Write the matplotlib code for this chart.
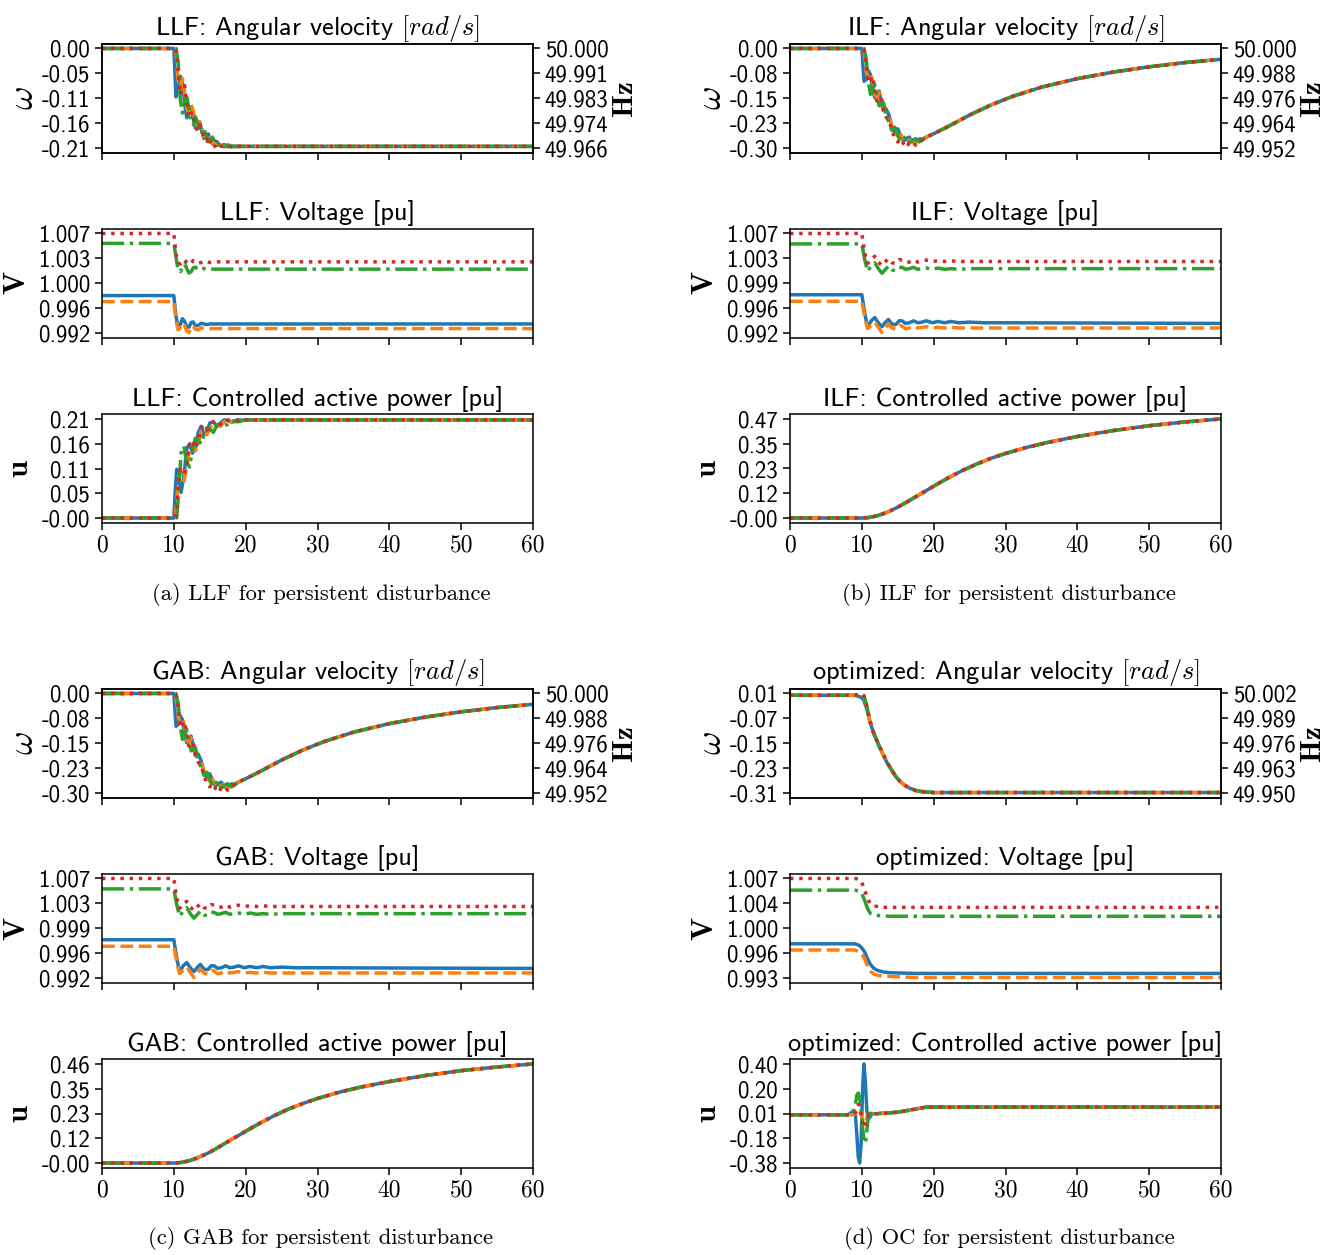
import matplotlib
matplotlib.use("Agg")
from matplotlib import pyplot as plt
import numpy as np

plt.rcParams['mathtext.fontset'] = 'cm'
plt.rcParams['axes.linewidth'] = 1.1

# Nominal grid frequency, used for the Hz scale on the right
F0 = 50.0

# ---- LLF ----
t_llf_w = [0, 10.0, 10.3, 10.6, 10.9, 11.2, 11.5, 11.8, 12.1, 12.4, 12.7, 13.0, 13.3, 13.6,
           13.9, 14.2, 14.5, 14.8, 15.1, 15.4, 15.7, 16.0, 16.5, 17.0, 17.5, 18.0, 19.0, 20.0, 60.0]
llf_w1 = [0, 0, -0.105, -0.090, -0.060, -0.075, -0.120, -0.150, -0.138, -0.128, -0.150, -0.172, -0.168, -0.160,
          -0.180, -0.195, -0.190, -0.185, -0.200, -0.207, -0.200, -0.202, -0.211, -0.208, -0.213, -0.211, -0.212, -0.212, -0.212]
llf_w2 = [0, 0, -0.010, -0.070, -0.085, -0.065, -0.095, -0.130, -0.140, -0.122, -0.135, -0.160, -0.170, -0.158,
          -0.170, -0.190, -0.195, -0.185, -0.195, -0.205, -0.208, -0.200, -0.210, -0.213, -0.208, -0.212, -0.212, -0.212, -0.212]
llf_w3 = [0, 0, 0.0, -0.030, -0.110, -0.140, -0.118, -0.105, -0.130, -0.160, -0.165, -0.148, -0.160, -0.185,
          -0.182, -0.172, -0.190, -0.202, -0.196, -0.192, -0.205, -0.210, -0.205, -0.212, -0.210, -0.213, -0.212, -0.212, -0.212]
llf_w4 = [0, 0, -0.005, -0.050, -0.100, -0.085, -0.080, -0.120, -0.150, -0.140, -0.140, -0.168, -0.178, -0.165,
          -0.175, -0.196, -0.200, -0.190, -0.203, -0.2145, -0.212, -0.205, -0.211, -0.213, -0.210, -0.213, -0.212, -0.212, -0.212]

t_llf_v = [0, 10.0, 10.3, 10.6, 10.9, 11.2, 11.5, 11.8, 12.1, 12.4, 12.7, 13.0, 13.4, 13.8, 14.2, 14.6, 15.0, 16.0, 17.0, 60.0]
llf_v1 = [0.9977, 0.9977, 0.9945, 0.9930, 0.9933, 0.9942, 0.9938, 0.9930, 0.9929, 0.9936,
          0.9937, 0.9931, 0.9932, 0.9935, 0.9934, 0.9933, 0.9934, 0.9934, 0.9934, 0.9934]
llf_v2 = [0.9968, 0.9968, 0.9940, 0.9925, 0.9928, 0.9935, 0.9932, 0.9923, 0.9921, 0.9928,
          0.9931, 0.9926, 0.9925, 0.9928, 0.9927, 0.9927, 0.9927, 0.9927, 0.9927, 0.9927]
llf_v3 = [1.0056, 1.0056, 1.0035, 1.0016, 1.0013, 1.0020, 1.0025, 1.0018, 1.0011, 1.0013,
          1.0019, 1.0020, 1.0016, 1.0016, 1.0018, 1.0017, 1.0017, 1.0017, 1.0017, 1.0017]
llf_v4 = [1.0071, 1.0071, 1.0040, 1.0027, 1.0025, 1.0030, 1.0031, 1.0027, 1.0024, 1.0026,
          1.0030, 1.0029, 1.0026, 1.0027, 1.0029, 1.0028, 1.0027, 1.0028, 1.0028, 1.0028]

t_llf_u = [0, 10.0, 10.2, 10.4, 10.7, 11.0, 11.4, 11.8, 12.2, 12.6, 13.0, 13.4, 13.8, 14.2, 14.6, 15.0,
           15.5, 16.0, 16.5, 17.0, 17.5, 18.0, 19.0, 20.0, 21.0, 60.0]
llf_u1 = [-0.0005, -0.0005, 0.060, 0.105, 0.080, 0.055, 0.090, 0.150, 0.160, 0.140, 0.150, 0.185, 0.198,
          0.180, 0.185, 0.205, 0.208, 0.198, 0.205, 0.212, 0.210, 0.208, 0.212, 0.211, 0.212, 0.212]
llf_u2 = [-0.0005, -0.0005, 0.000, 0.040, 0.090, 0.100, 0.080, 0.110, 0.150, 0.160, 0.145, 0.160, 0.188,
          0.190, 0.180, 0.192, 0.205, 0.200, 0.198, 0.208, 0.214, 0.206, 0.210, 0.212, 0.211, 0.212]
llf_u3 = [-0.0005, -0.0005, 0.000, 0.000, 0.060, 0.140, 0.155, 0.120, 0.110, 0.150, 0.172, 0.168, 0.160,
          0.180, 0.195, 0.192, 0.185, 0.200, 0.205, 0.200, 0.202, 0.210, 0.208, 0.212, 0.212, 0.212]
llf_u4 = [-0.0005, -0.0005, 0.000, 0.020, 0.100, 0.105, 0.095, 0.120, 0.160, 0.168, 0.150, 0.165, 0.195,
          0.200, 0.190, 0.195, 0.208, 0.210, 0.202, 0.206, 0.212, 0.210, 0.211, 0.212, 0.212, 0.212]

# ---- ILF (GAB behaves the same for frequency and voltage) ----
t_ilf_w = [0, 10.0, 10.3, 10.6, 10.9, 11.2, 11.5, 11.8, 12.1, 12.4, 12.7, 13.0, 13.4, 13.8, 14.2, 14.6,
           15.0, 15.4, 15.8, 16.2, 16.6, 17.0, 17.5, 18.0, 18.5, 19.0,
           20, 22, 25, 28, 31, 35, 40, 45, 50, 55, 60]
ilf_w_tail = [-0.260, -0.238, -0.203, -0.172, -0.146, -0.118, -0.092, -0.072, -0.056, -0.043, -0.033]
ilf_w1 = [0, 0, -0.100, -0.095, -0.068, -0.080, -0.125, -0.150, -0.140, -0.130, -0.160, -0.190, -0.185,
          -0.205, -0.240, -0.255, -0.245, -0.265, -0.282, -0.275, -0.270, -0.285, -0.282, -0.276, -0.276, -0.270] + ilf_w_tail
ilf_w2 = [0, 0, -0.010, -0.070, -0.090, -0.075, -0.100, -0.140, -0.150, -0.135, -0.150, -0.180, -0.200,
          -0.215, -0.235, -0.255, -0.268, -0.262, -0.275, -0.290, -0.280, -0.278, -0.290, -0.284, -0.276, -0.270] + ilf_w_tail
ilf_w3 = [0, 0, 0.0, -0.030, -0.100, -0.140, -0.125, -0.110, -0.140, -0.175, -0.170, -0.165, -0.200,
          -0.230, -0.250, -0.240, -0.262, -0.285, -0.275, -0.268, -0.288, -0.280, -0.275, -0.285, -0.277, -0.270] + ilf_w_tail
ilf_w4 = [0, 0, -0.005, -0.050, -0.105, -0.095, -0.085, -0.125, -0.160, -0.150, -0.150, -0.185, -0.210,
          -0.220, -0.250, -0.275, -0.285, -0.275, -0.290, -0.302, -0.288, -0.283, -0.295, -0.286, -0.278, -0.270] + ilf_w_tail

t_ilf_v = [0, 10.0, 10.4, 10.8, 11.3, 11.8, 12.3, 12.8, 13.3, 13.7, 14.2, 14.7, 15.2, 15.6, 16.1, 16.6,
           17.2, 17.8, 18.4, 19.0, 19.8, 20.6, 21.5, 22.4, 23.5, 25.0, 27.0, 30.0, 60.0]
ilf_v1 = [0.9976, 0.9976, 0.9948, 0.9926, 0.9936, 0.9941, 0.9933, 0.9927, 0.9934, 0.9938, 0.9931, 0.9930,
          0.9936, 0.9936, 0.9932, 0.9933, 0.9936, 0.9933, 0.9934, 0.9936, 0.9933, 0.9935, 0.9933, 0.9935,
          0.9933, 0.9934, 0.9933, 0.9933, 0.9932]
ilf_v2 = [0.9966, 0.9966, 0.9942, 0.9924, 0.9929, 0.9934, 0.9926, 0.9918, 0.9925, 0.9931, 0.9925, 0.9923,
          0.9929, 0.9928, 0.9924, 0.9925, 0.9928, 0.9925, 0.9926, 0.9927, 0.9925, 0.9926, 0.9925, 0.9926,
          0.9925, 0.9925, 0.9925, 0.9925, 0.9925]
ilf_v3 = [1.0054, 1.0054, 1.0030, 1.0012, 1.0020, 1.0025, 1.0016, 1.0009, 1.0015, 1.0020, 1.0014, 1.0013,
          1.0018, 1.0018, 1.0015, 1.0016, 1.0018, 1.0015, 1.0016, 1.0017, 1.0015, 1.0017, 1.0015, 1.0016,
          1.0015, 1.0016, 1.0016, 1.0016, 1.0016]
ilf_v4 = [1.0070, 1.0070, 1.0040, 1.0024, 1.0030, 1.0035, 1.0026, 1.0021, 1.0027, 1.0031, 1.0025, 1.0024,
          1.0030, 1.0029, 1.0026, 1.0026, 1.0029, 1.0026, 1.0028, 1.0029, 1.0027, 1.0028, 1.0027, 1.0028,
          1.0027, 1.0027, 1.0027, 1.0027, 1.0027]

# all four units share the same controlled power under ILF / GAB
t_slow_u = [0, 10, 11, 12, 13, 14, 15, 16, 17, 18, 19, 20, 22, 24, 26, 28, 30, 33, 36, 40, 45, 50, 55, 60]
ilf_u = [-0.0005, -0.0005, 0.002, 0.009, 0.020, 0.034, 0.051, 0.070, 0.090, 0.110, 0.130, 0.150,
         0.189, 0.224, 0.255, 0.282, 0.305, 0.334, 0.358, 0.385, 0.413, 0.436, 0.454, 0.468]
gab_u = [-0.0005, -0.0005, 0.002, 0.009, 0.020, 0.034, 0.050, 0.069, 0.089, 0.109, 0.128, 0.148,
         0.186, 0.221, 0.252, 0.278, 0.301, 0.330, 0.354, 0.380, 0.408, 0.431, 0.448, 0.4622]

# ---- optimized control ----
t_oc_w = [0, 8.5, 9.2, 9.6, 10.0, 10.3, 10.7, 11.1, 11.6, 12.3, 13.0, 13.5, 14.0, 14.7, 15.3, 15.9,
          16.7, 17.6, 18.7, 20.0, 60.0]
oc_w1 = [0.006, 0.006, 0.005, 0.002, -0.002, -0.012, -0.040, -0.078, -0.117, -0.156, -0.191, -0.215,
         -0.235, -0.261, -0.277, -0.289, -0.300, -0.308, -0.312, -0.314, -0.314]
oc_w2 = [0.006, 0.006, 0.006, 0.008, 0.009, 0.000, -0.034, -0.077, -0.116, -0.155, -0.190, -0.214,
         -0.234, -0.260, -0.277, -0.289, -0.300, -0.308, -0.312, -0.314, -0.314]
oc_w3 = [0.006, 0.006, 0.007, 0.010, 0.012, 0.004, -0.030, -0.076, -0.115, -0.154, -0.190, -0.214,
         -0.234, -0.260, -0.277, -0.289, -0.300, -0.308, -0.312, -0.314, -0.314]
oc_w4 = [0.006, 0.006, 0.007, 0.009, 0.011, 0.003, -0.031, -0.076, -0.115, -0.154, -0.190, -0.214,
         -0.234, -0.260, -0.277, -0.289, -0.300, -0.308, -0.312, -0.314, -0.314]

t_oc_v = [0, 9.0, 9.6, 10.0, 10.4, 10.8, 11.2, 11.7, 12.3, 13.0, 14.0, 15.5, 17.5, 60.0]
oc_v1 = [0.9977, 0.9977, 0.9975, 0.9971, 0.9965, 0.9955, 0.9947, 0.9941, 0.9938, 0.9936, 0.9935, 0.99345, 0.9934, 0.9934]
oc_v2 = [0.9968, 0.9968, 0.9966, 0.9962, 0.9955, 0.9944, 0.9937, 0.9933, 0.9931, 0.9930, 0.99295, 0.9929, 0.9928, 0.9928]
oc_v3 = [1.0055, 1.0055, 1.0054, 1.0050, 1.0040, 1.0028, 1.0021, 1.0019, 1.0018, 1.00175, 1.0017, 1.0017, 1.0017, 1.0017]
oc_v4 = [1.0072, 1.0072, 1.0071, 1.0066, 1.0055, 1.0043, 1.0035, 1.0032, 1.0031, 1.0030, 1.0030, 1.0030, 1.0030, 1.0030]

t_oc_u = [0, 8.0, 8.4, 8.8, 9.1, 9.3, 9.5, 9.7, 9.9, 10.1, 10.3, 10.5, 10.7, 10.9, 11.1, 11.4, 11.8,
          13.0, 15.0, 17.0, 19.0, 60.0]
oc_u1 = [0.0, 0.0, 0.010, 0.030, 0.000, -0.150, -0.330, -0.376, -0.220, 0.200, 0.396, 0.250, 0.030,
         -0.030, -0.020, 0.005, 0.008, 0.012, 0.020, 0.040, 0.060, 0.060]
oc_u2 = [0.0, 0.0, 0.0, 0.000, 0.010, 0.030, 0.040, 0.030, 0.000, -0.050, -0.080, -0.060, -0.020,
         0.000, 0.010, 0.010, 0.008, 0.012, 0.020, 0.040, 0.060, 0.060]
oc_u3 = [0.0, 0.0, 0.0, 0.010, 0.080, 0.150, 0.170, 0.130, 0.030, -0.100, -0.200, -0.224, -0.120,
         -0.020, 0.010, 0.010, 0.008, 0.012, 0.020, 0.040, 0.060, 0.060]
oc_u4 = [0.0, 0.0, 0.0, 0.000, 0.020, 0.050, 0.080, 0.070, 0.010, -0.060, -0.100, -0.080, -0.030,
         0.000, 0.010, 0.010, 0.008, 0.012, 0.020, 0.040, 0.060, 0.060]

x_ticks = [0, 10, 20, 30, 40, 50, 60]
styles = [('tab:blue', '-'), ('tab:orange', '--'), ('tab:green', '-.'), ('tab:red', ':')]
LW = 2.5
TICK_FS = 16.5

W, H = 1344, 1255
fig = plt.figure(figsize=(W / 100, H / 100), dpi=100)


def make_axes(left, top):
    # pixel box -> figure fraction
    return fig.add_axes([left / W, 1 - (top + 109) / H, 431 / W, 109 / H])


def draw(ax, t, series):
    for y, (c, ls) in zip(series, styles):
        ax.plot(t, y, color=c, linestyle=ls, lw=LW)
    ax.set_xlim(0, 60)
    ax.set_xticks(x_ticks)
    ax.tick_params(direction='out', length=5, width=1.1)
    lo = min(min(s) for s in series)
    hi = max(max(s) for s in series)
    return np.linspace(lo, hi, 5)


def set_yticks(ax, ticks, fmt):
    ax.set_yticks(ticks)
    ax.set_yticklabels([fmt % v for v in ticks], fontfamily='cmss10', fontsize=TICK_FS)


def side_label(ax, x, text, **kw):
    ax.text(x, 0.5, text, transform=ax.transAxes, rotation=90, ha='center', va='center', **kw)


panels = [
    ("LLF", 102, 0, "(a) LLF for persistent disturbance",
     (t_llf_w, [llf_w1, llf_w2, llf_w3, llf_w4]),
     (t_llf_v, [llf_v1, llf_v2, llf_v3, llf_v4]),
     (t_llf_u, [llf_u1, llf_u2, llf_u3, llf_u4])),
    ("ILF", 790, 0, "(b) ILF for persistent disturbance",
     (t_ilf_w, [ilf_w1, ilf_w2, ilf_w3, ilf_w4]),
     (t_ilf_v, [ilf_v1, ilf_v2, ilf_v3, ilf_v4]),
     (t_slow_u, [ilf_u] * 4)),
    ("GAB", 102, 645, "(c) GAB for persistent disturbance",
     (t_ilf_w, [ilf_w1, ilf_w2, ilf_w3, ilf_w4]),
     (t_ilf_v, [ilf_v1, ilf_v2, ilf_v3, ilf_v4]),
     (t_slow_u, [gab_u] * 4)),
    ("optimized", 790, 645, "(d) OC for persistent disturbance",
     (t_oc_w, [oc_w1, oc_w2, oc_w3, oc_w4]),
     (t_oc_v, [oc_v1, oc_v2, oc_v3, oc_v4]),
     (t_oc_u, [oc_u1, oc_u2, oc_u3, oc_u4])),
]

for name, left, dy, caption, w_data, v_data, u_data in panels:
    # angular velocity with Hz scale on the right
    ax = make_axes(left, 43.5 + dy)
    ticks = draw(ax, *w_data)
    set_yticks(ax, ticks, '%.2f')
    ax.tick_params(labelbottom=False)
    ax.set_title(name + ": Angular velocity $[rad/s]$", fontfamily='cmss10', fontsize=19, pad=6)
    side_label(ax, -0.183, r'$\omega$', fontsize=26)
    ax2 = ax.twinx()
    lo, hi = ax.get_ylim()
    ax2.set_ylim(F0 + lo / (2 * np.pi), F0 + hi / (2 * np.pi))
    hz = F0 + ticks / (2 * np.pi)
    ax2.set_yticks(hz)
    ax2.set_yticklabels(['%.3f' % v for v in hz], fontfamily='cmss10', fontsize=TICK_FS)
    ax2.tick_params(direction='out', length=5, width=1.1)
    side_label(ax, 1.213, 'Hz', fontfamily='cmb10', fontsize=21)

    # voltage
    ax = make_axes(left, 228.5 + dy)
    ticks = draw(ax, *v_data)
    set_yticks(ax, ticks, '%.3f')
    ax.tick_params(labelbottom=False)
    ax.set_title(name + ": Voltage [pu]", fontfamily='cmss10', fontsize=19, pad=6)
    side_label(ax, -0.197, 'V', fontfamily='cmb10', fontsize=22)

    # controlled active power
    ax = make_axes(left, 414 + dy)
    ticks = draw(ax, *u_data)
    set_yticks(ax, ticks, '%.2f')
    ax.set_xticklabels([str(v) for v in x_ticks], fontfamily='cmr10', fontsize=17)
    ax.set_title(name + ": Controlled active power [pu]", fontfamily='cmss10', fontsize=19, pad=6)
    side_label(ax, -0.19, 'u', fontfamily='cmb10', fontsize=22)

    fig.text((left + 219) / W, 1 - (594 + dy) / H, caption, ha='center', va='center',
             fontfamily='cmr10', fontsize=16.3)

fig.savefig("out.png", dpi=100)
